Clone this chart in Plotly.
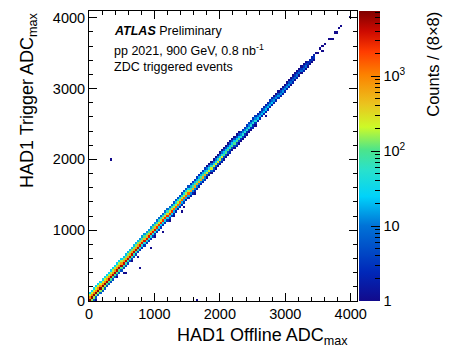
import numpy as np
import plotly.graph_objects as go

# ---- data -------------------------------------------------------------
# Histogram binning (ADC counts)
bin_width = 32
adc_range = 4096

# Core of the correlation band: start of each offline-ADC segment and the
# counts per bin at a given offset (in bins) of trigger ADC from offline ADC
segment_start = [0, 256, 512, 768, 1024, 1280, 1536, 1792,
                 2048, 2304, 2560, 2816, 3072, 3328]
counts_off_m2 = [6, 5, 4, 3, 3, 2, 2, 1, 1, 1, 0, 0, 0, 0]
counts_off_m1 = [150, 100, 70, 45, 30, 18, 12, 7, 5, 3, 2, 2, 1, 1]
counts_off_0 = [6500, 5500, 4500, 3500, 2500, 1400, 600, 250, 100, 50, 22, 14, 8, 3]
counts_off_p1 = [900, 800, 650, 500, 320, 180, 90, 45, 22, 12, 8, 5, 3, 2]
counts_off_p2 = [220, 180, 140, 100, 60, 35, 18, 10, 5, 3, 2, 1, 1, 0]
counts_off_p3 = [30, 25, 20, 14, 8, 5, 3, 1, 1, 0, 0, 0, 0, 0]

# Sparse high-ADC tail of the band (single entries)
tail_offline = [3478, 3500, 3529, 3560, 3580, 3600, 3656, 3690, 3733,
                3760, 3790, 3836, 3860, 3990]
tail_trigger = [3498, 3510, 3569, 3550, 3592, 3620, 3686, 3700, 3700,
                3781, 3800, 3860, 3880, 4007]

# Isolated entries off the diagonal (single entries)
outlier_offline = [350, 790, 943, 1136, 1421, 764, 1655, 525, 555, 117, 183,
                   1229, 1442, 1467, 1764, 1908, 2037, 2155, 2360, 2511,
                   2690, 2460, 2653, 2766, 3121, 3275, 300, 420, 650,
                   1000, 1300, 1600, 2250, 2900, 3180]
outlier_trigger = [2000, 470, 758, 984, 1271, 631, 14, 391, 400, 14, 117,
                   1134, 1342, 1400, 1709, 1841, 1977, 2108, 2312, 2439,
                   2603, 2510, 2698, 2839, 3098, 3239, 230, 350, 560,
                   900, 1200, 1530, 2190, 2860, 3140]

# Colour-axis ticks (counts)
cb_major = [1, 10, 100, 1000]
cb_major_text = ["1", "10", "10<sup>2</sup>", "10<sup>3</sup>"]
cb_minor = [2, 3, 4, 5, 6, 7, 8, 9, 20, 30, 40, 50, 60, 70, 80, 90,
            200, 300, 400, 500, 600, 700, 800, 900, 2000, 3000, 4000,
            5000, 6000, 7000]
count_max = 7400

# ---- fill the 2D histogram -------------------------------------------
nb = adc_range // bin_width
hist = np.zeros((nb, nb))
offsets = {-2: counts_off_m2, -1: counts_off_m1, 0: counts_off_0,
           1: counts_off_p1, 2: counts_off_p2, 3: counts_off_p3}
seg_edges = segment_start + [3456]
for s in range(len(segment_start)):
    i0 = seg_edges[s] // bin_width
    i1 = seg_edges[s + 1] // bin_width
    for i in range(i0, i1):
        for d, vals in offsets.items():
            j = i + d
            if 0 <= j < nb and vals[s] > 0:
                hist[j, i] += vals[s]

for xs, ys in ((tail_offline, tail_trigger), (outlier_offline, outlier_trigger)):
    for xv, yv in zip(xs, ys):
        hist[int(yv) // bin_width, int(xv) // bin_width] += 1

z = np.where(hist > 0, np.log10(np.maximum(hist, 1)), np.nan)
zmax = np.log10(count_max)

colorscale = [
    [0.00, "rgb(18,10,140)"],
    [0.10, "rgb(0,40,185)"],
    [0.26, "rgb(0,115,215)"],
    [0.36, "rgb(0,210,250)"],
    [0.45, "rgb(40,225,205)"],
    [0.52, "rgb(75,228,140)"],
    [0.60, "rgb(205,250,40)"],
    [0.68, "rgb(235,195,30)"],
    [0.78, "rgb(252,130,0)"],
    [0.86, "rgb(255,60,0)"],
    [0.93, "rgb(205,10,0)"],
    [1.00, "rgb(128,0,0)"],
]

FONT = "Liberation Sans, Arial, sans-serif"
cbar_pos = dict(x=1.007, xanchor="left", xpad=0, y=0.5, yanchor="middle",
                len=1, lenmode="fraction", ypad=0, thickness=21, outlinewidth=0)

fig = go.Figure()
fig.add_trace(go.Heatmap(
    z=z,
    x0=bin_width / 2, dx=bin_width,
    y0=bin_width / 2, dy=bin_width,
    zmin=0, zmax=zmax,
    colorscale=colorscale,
    hoverongaps=False,
    colorbar=dict(
        **cbar_pos,
        tickmode="array",
        tickvals=[np.log10(v) for v in cb_major],
        ticktext=cb_major_text,
        ticks="inside", ticklen=9, tickwidth=1, tickcolor="black",
        tickfont=dict(family=FONT, size=14.5, color="black"),
    ),
))
# transparent companion scale carrying the minor ticks of the colour axis;
# its single marker sits outside the visible axis range
fig.add_trace(go.Scatter(
    x=[-1000], y=[-1000], mode="markers", hoverinfo="skip", showlegend=False,
    marker=dict(
        color=[0], cmin=0, cmax=zmax, opacity=0,
        colorscale=[[0, "rgba(0,0,0,0)"], [1, "rgba(0,0,0,0)"]],
        showscale=True,
        colorbar=dict(
            **cbar_pos,
            tickmode="array",
            tickvals=[np.log10(v) for v in cb_minor],
            showticklabels=False,
            ticks="inside", ticklen=5, tickwidth=1, tickcolor="black",
        ),
    ),
))

axis_common = dict(
    showgrid=False, zeroline=False,
    showline=True, linecolor="black", linewidth=1, mirror="allticks",
    ticks="inside", ticklen=8, tickwidth=1, tickcolor="black",
    tickfont=dict(family=FONT, size=14.5, color="black"),
    dtick=1000, tick0=0,
    minor=dict(ticks="inside", ticklen=4, dtick=200, tickcolor="black", showgrid=False),
)
fig.update_xaxes(range=[0, adc_range], **axis_common)
fig.update_yaxes(range=[0, adc_range], **axis_common)

annotations = [
    dict(text="<b><i>ATLAS</i></b> Preliminary", x=0.086, y=0.931),
    dict(text="pp 2021, 900 GeV, 0.8 nb<sup>-1</sup>", x=0.086, y=0.866),
    dict(text="ZDC triggered events", x=0.086, y=0.808),
]
for a in annotations:
    fig.add_annotation(xref="paper", yref="paper", xanchor="left", yanchor="middle",
                       showarrow=False, font=dict(family=FONT, size=12.5, color="black"), **a)

fig.add_annotation(text="HAD1 Offline ADC<sub>max</sub>", xref="paper", yref="paper",
                   x=0.974, y=-0.124, xanchor="right", yanchor="middle", showarrow=False,
                   font=dict(family=FONT, size=18, color="black"))
fig.add_annotation(text="HAD1 Trigger ADC<sub>max</sub>", xref="paper", yref="paper",
                   x=-0.228, y=1.003, xanchor="center", yanchor="top", textangle=-90,
                   showarrow=False, font=dict(family=FONT, size=18, color="black"))
fig.add_annotation(text="Counts / (8×8)", xref="paper", yref="paper",
                   x=1.284, y=1.003, xanchor="center", yanchor="top", textangle=-90,
                   showarrow=False, font=dict(family=FONT, size=16.5, color="black"))

fig.update_layout(
    width=454, height=349,
    margin=dict(l=89, r=97, t=11, b=48),
    paper_bgcolor="white", plot_bgcolor="white",
    font=dict(family=FONT, color="black"),
)

fig.write_html("out.html")
